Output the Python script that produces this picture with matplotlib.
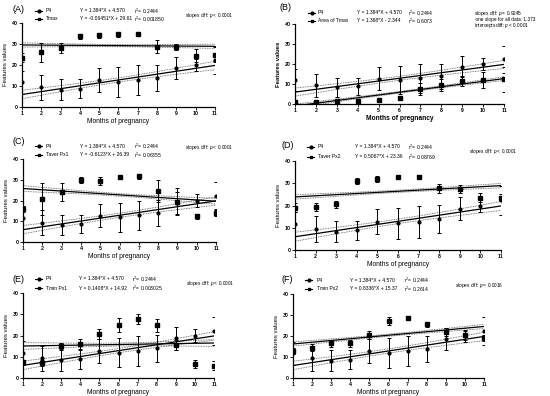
import matplotlib
matplotlib.use("Agg")
import matplotlib.pyplot as plt
from matplotlib.lines import Line2D
import numpy as np

plt.rcParams["font.family"] = ["Liberation Sans", "DejaVu Sans"]
plt.rcParams["mathtext.fontset"] = "custom"
plt.rcParams["mathtext.rm"] = "Liberation Sans"
plt.rcParams["mathtext.it"] = "Liberation Sans:italic"
plt.rcParams["mathtext.bf"] = "Liberation Sans:bold"

##########
## DATA ##
##########

months = [1, 2, 3, 4, 5, 6, 7, 8, 9, 10, 11]

# P4 (same in every panel)
p4_mean = [11.8, 9.3, 8.3, 8.8, 12.7, 12.0, 12.8, 13.9, 18.6, 20.0, 22.3]
p4_sd = [5.5, 5.9, 4.9, 4.4, 5.7, 7.0, 7.2, 6.2, 5.3, 3.0, 6.6]
p4_fit = (1.384, 4.570)
p4_eq = "Y = 1.384*X + 4.570"
p4_r2 = "0.2444"

tmax_mean = [23.5, 26.0, 28.0, 33.8, 34.2, 34.6, 34.9, 28.8, 28.5, 24.5, 25.0]
tmax_sd = [2.0, 4.5, 2.5, 1.2, 1.2, 1.2, 1.0, 3.0, 1.5, 3.0, 3.5]
tmax_fit = (-0.06451, 29.61)

area_mean = [1.0, 1.2, 1.5, 1.5, 2.0, 3.0, 7.5, 9.5, 11.5, 12.0, 12.3]
area_sd = [0.8, 0.8, 1.0, 1.2, 1.0, 1.0, 3.0, 3.0, 2.5, 4.0, 6.3]
area_fit = (1.368, -2.344)

taver1_mean = [16.0, 20.7, 24.0, 29.8, 29.3, 31.2, 31.8, 24.6, 19.3, 12.5, 14.0]
taver1_sd = [1.5, 7.7, 4.2, 1.3, 1.8, 0.8, 1.2, 5.5, 6.5, 1.2, 1.5]
taver1_fit = (-0.6123, 26.39)

taver2_mean = [19.0, 19.2, 20.5, 31.0, 31.8, 33.0, 33.0, 27.8, 27.5, 23.5, 23.5]
taver2_sd = [2.0, 1.8, 1.5, 1.3, 1.3, 0.8, 0.8, 2.0, 1.8, 2.0, 1.5]
taver2_fit = (0.5067, 23.36)

tmin1_mean = [7.5, 7.2, 15.0, 16.0, 20.7, 25.0, 27.8, 24.8, 15.5, 6.5, 5.8]
tmin1_sd = [1.0, 1.5, 1.5, 2.5, 2.5, 3.2, 2.5, 3.2, 2.5, 1.8, 2.0]
tmin1_fit = (0.1408, 14.92)

tmin2_mean = [13.0, 14.5, 16.5, 16.5, 20.5, 27.2, 28.5, 25.5, 22.0, 20.3, 19.0]
tmin2_sd = [1.5, 1.5, 1.5, 1.5, 2.0, 2.0, 1.0, 1.0, 2.0, 2.0, 1.5]
tmin2_fit = (0.8336, 15.37)

# confidence band half width (at centre, at the ends)
p4_band = (1.0, 2.0)
tmax_band = (0.5, 1.0)
area_band = (0.4, 0.9)
taver1_band = (0.6, 1.4)
taver2_band = (0.5, 1.0)
tmin1_band = (0.7, 1.6)
tmin2_band = (0.5, 1.0)

W, H = 550, 396


def fx(px):
    return px / W


def fy(py):
    return 1 - py / H


# box = axes (left, top, right, bottom) in px; tag/rows/stats = text positions in px
panels = [
    dict(tag="(A)", name="Tmax", mean=tmax_mean, sd=tmax_sd, fit=tmax_fit, band=tmax_band,
         eq="Y = -0.06451*X + 29.61", r2="0.001850",
         stats=["slopes diff: $\\it{p}$ < 0.0001"],
         box=(22, 23, 215, 107), tag_xy=(12, 9), rows_y=(11, 19), stats_y=15,
         xs=(35, 46, 80, 134, 185), bold=False),
    dict(tag="(B)", name="Area of Tmax", mean=area_mean, sd=area_sd, fit=area_fit, band=area_band,
         eq="Y = 1.368*X - 2.344", r2="0.6073",
         stats=["slopes diff: $\\it{p}$ = 0.9245", " one slope for all data: 1.373",
                "intercepts diff: $\\it{p}$ < 0.0001"],
         box=(295, 24, 504, 104), tag_xy=(280, 8), rows_y=(13, 21), stats_y=13,
         xs=(308, 318, 357, 408, 474), bold=True),
    dict(tag="(C)", name="Taver Px1", mean=taver1_mean, sd=taver1_sd, fit=taver1_fit, band=taver1_band,
         eq="Y = -0.6123*X + 26.39", r2="0.06355",
         stats=["slopes diff: $\\it{p}$ < 0.0001"],
         box=(23, 159, 216, 242), tag_xy=(12, 142), rows_y=(146, 155), stats_y=148,
         xs=(35, 46, 80, 134, 185), bold=False),
    dict(tag="(D)", name="Taver Px2", mean=taver2_mean, sd=taver2_sd, fit=taver2_fit, band=taver2_band,
         eq="Y = 0.5067*X + 23.36", r2="0.08769",
         stats=["slopes diff: $\\it{p}$ < 0.0001"],
         box=(295, 161, 501, 250), tag_xy=(281, 145), rows_y=(147, 157), stats_y=152,
         xs=(307, 318, 355, 408, 469), bold=False),
    dict(tag="(E)", name="Tmin Px1", mean=tmin1_mean, sd=tmin1_sd, fit=tmin1_fit, band=tmin1_band,
         eq="Y = 0.1408*X + 14.92", r2="0.003025",
         stats=["slopes diff: $\\it{p}$ < 0.0001"],
         box=(23, 293, 214, 378), tag_xy=(12, 279), rows_y=(279, 288), stats_y=284,
         xs=(35, 46, 79, 132, 186), bold=False),
    dict(tag="(F)", name="Tmin Px2", mean=tmin2_mean, sd=tmin2_sd, fit=tmin2_fit, band=tmin2_band,
         eq="Y = 0.8336*X + 15.37", r2="0.2614",
         stats=["slopes diff: $\\it{p}$ = 0.0016"],
         box=(293, 294, 484, 378), tag_xy=(281, 280), rows_y=(280, 289), stats_y=285,
         xs=(305, 317, 350, 404, 455), bold=False),
]


def draw_fit(ax, fit, band):
    xs = np.linspace(1, 11, 200)
    ys = fit[0] * xs + fit[1]
    mid, edge = band
    h = np.sqrt(mid ** 2 + (edge ** 2 - mid ** 2) * ((xs - 6) / 5.0) ** 2)
    ax.plot(xs, ys, color="black", lw=0.9, zorder=3)
    ax.plot(xs, ys + h, color="#555555", lw=0.6, ls=(0, (1, 1)), zorder=2)
    ax.plot(xs, ys - h, color="#555555", lw=0.6, ls=(0, (1, 1)), zorder=2)


fig = plt.figure(figsize=(W / 100, H / 100), dpi=100)

for p in panels:
    x0, y0, x1, y1 = p["box"]
    ax = fig.add_axes([fx(x0), fy(y1), (x1 - x0) / W, (y1 - y0) / H])

    draw_fit(ax, p4_fit, p4_band)
    draw_fit(ax, p["fit"], p["band"])

    ax.errorbar(months, p4_mean, yerr=p4_sd, fmt="o", ms=2.0, color="black",
                ecolor="black", elinewidth=0.7, capsize=1.3, capthick=0.7, zorder=4)
    ax.errorbar(months, p["mean"], yerr=p["sd"], fmt="s", ms=2.2, color="black",
                ecolor="black", elinewidth=0.7, capsize=1.3, capthick=0.7, zorder=4)

    ax.set_xlim(1, 11)
    ax.set_ylim(0, 40)
    ax.set_xticks(months)
    ax.set_yticks([0, 10, 20, 30, 40])
    for s in ("top", "right"):
        ax.spines[s].set_visible(False)
    for s in ("left", "bottom"):
        ax.spines[s].set_linewidth(0.9)
    ax.tick_params(length=2, width=0.6, pad=1, labelsize=3.7)
    for lab in ax.get_xticklabels() + ax.get_yticklabels():
        lab.set_fontweight("bold")
    wt = "bold" if p["bold"] else "normal"
    ax.set_xlabel("Months of pregnancy", fontsize=4.8, labelpad=1.5, fontweight=wt)
    ax.set_ylabel("Features values", fontsize=4.3, labelpad=2.5, fontweight=wt)

    # header texts
    lx, nx, ex, rx, sx = p["xs"]
    fig.text(fx(p["tag_xy"][0]), fy(p["tag_xy"][1]), p["tag"], fontsize=6.5, va="center", ha="left")
    rows = [(p["rows_y"][0], "o", "P4", p4_eq, p4_r2), (p["rows_y"][1], "s", p["name"], p["eq"], p["r2"])]
    for ry, mk, nm, eq, r2 in rows:
        fig.add_artist(Line2D([fx(lx), fx(lx + 3.5), fx(lx + 7)], [fy(ry)] * 3, color="black",
                              lw=0.8, marker=mk, ms=2.0, markevery=[1],
                              transform=fig.transFigure))
        fig.text(fx(nx), fy(ry), nm, fontsize=3.6, va="center", ha="left")
        fig.text(fx(ex), fy(ry), eq, fontsize=3.6, va="center", ha="left")
        fig.text(fx(rx), fy(ry), "r$^2$= " + r2, fontsize=3.6, va="center", ha="left")
    for i, st in enumerate(p["stats"]):
        fig.text(fx(sx), fy(p["stats_y"] + 6 * i), st, fontsize=3.4, va="center", ha="left")

plt.savefig("out.png", dpi=100)
